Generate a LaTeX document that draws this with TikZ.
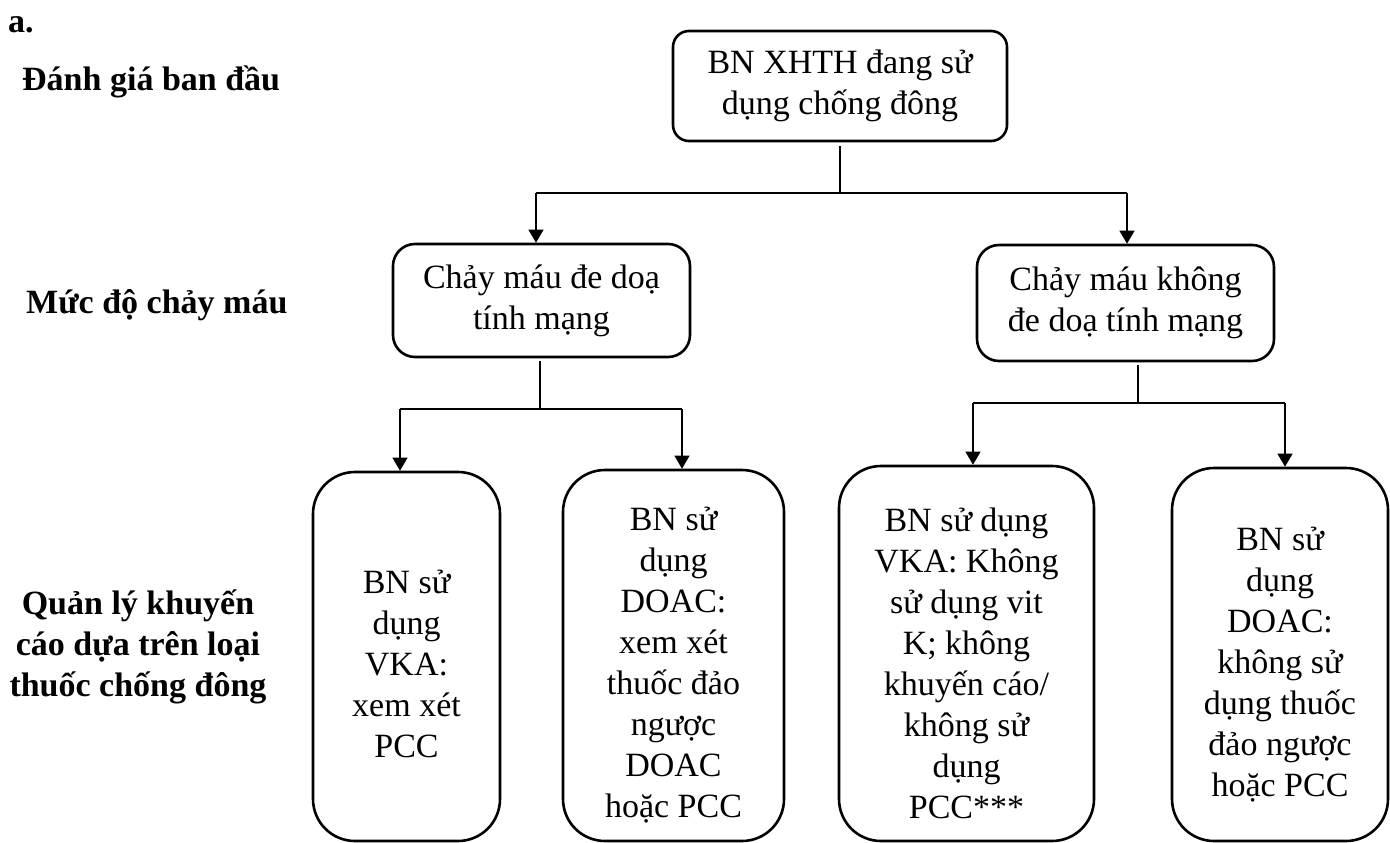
\documentclass[tikz,border=0pt]{standalone}
\usepackage{fontspec}
\setmainfont{Liberation Serif}
\usetikzlibrary{arrows.meta}
\begin{document}
\begin{tikzpicture}[x=1pt,y=-1pt,
  every node/.style={font=\fontsize{34}{41}\selectfont, inner sep=0pt, align=center},
  flow/.style={draw, line width=2.6pt, rounded corners=#1},
  flow/.default=20pt,
  txt/.style={align=center},
  conn/.style={line width=1.1pt},
  arr/.style={line width=1.1pt, -{Triangle[width=15pt,length=13pt]}},
  lbl/.style={font=\bfseries\fontsize{34}{41}\selectfont, inner sep=0pt}
]
\useasboundingbox (0,0) rectangle (1390,843);

% labels
\node[lbl, anchor=base west] (la) at (8,33) {a.};
\node[lbl, anchor=base west] (l1) at (22,91) {Đánh giá ban đầu};
\node[lbl, anchor=base west] (l2) at (26,313) {Mức độ chảy máu};
\node[lbl, align=center] (l3) at (138,647) {Quản lý khuyến\\cáo dựa trên loại\\thuốc chống đông};

% boxes
\node[flow=16pt, minimum width=334pt, minimum height=110pt] (top) at (840,86) {BN XHTH đang sử\\dụng chống đông};
\node[flow=22pt, minimum width=297pt, minimum height=113pt] (bl) at (541.5,300.5) {Chảy máu đe doạ\\tính mạng};
\node[flow=22pt, minimum width=297pt, minimum height=116pt] (nb) at (1125.5,303) {Chảy máu không\\đe doạ tính mạng};

\node[flow=42pt, minimum width=187pt, minimum height=369pt] (A) at (406.5,656.5) {};
\node[flow=42pt, minimum width=221pt, minimum height=371pt] (B) at (673.5,655.5) {};
\node[flow=42pt, minimum width=255pt, minimum height=375pt] (C) at (966.5,653.5) {};
\node[flow=42pt, minimum width=216pt, minimum height=373pt] (D) at (1280,654.5) {};

\node[txt] (At) at ([yshift=-7pt]A.center) {BN sử\\dụng\\VKA:\\xem xét\\PCC};
\node[txt] (Bt) at ([yshift=-10pt]B.center) {BN sử\\dụng\\DOAC:\\xem xét\\thuốc đảo\\ngược\\DOAC\\hoặc PCC};
\node[txt] (Ct) at ([yshift=-10pt]C.center) {BN sử dụng\\VKA: Không\\sử dụng vit\\K; không\\khuyến cáo/\\không sử\\dụng\\PCC***};
\node[txt] (Dt) at ([yshift=-10pt]D.center) {BN sử\\dụng\\DOAC:\\không sử\\dụng thuốc\\đảo ngược\\hoặc PCC};

% connectors level 1
\coordinate (j0) at (840,193);
\coordinate (jL) at (536,193);
\coordinate (jR) at (1127,193);
\draw[conn] ([yshift=-4pt]top.south) -- (j0);
\draw[conn] (jL) -- (jR);
\draw[arr] (jL) -- (jL |- bl.north);
\draw[arr] (jR) -- (jR |- nb.north);

% connectors level 2 left
\coordinate (k0) at (540,409);
\coordinate (kL) at (400,409);
\coordinate (kR) at (682,409);
\draw[conn] ([yshift=-3pt]bl.south -| k0) -- (k0);
\draw[conn] (kL) -- (kR);
\draw[arr] (kL) -- (kL |- A.north);
\draw[arr] (kR) -- (kR |- B.north);

% connectors level 2 right
\coordinate (m0) at (1138,403);
\coordinate (mL) at (973,403);
\coordinate (mR) at (1285,403);
\draw[conn] ([yshift=-3pt]nb.south -| m0) -- (m0);
\draw[conn] (mL) -- (mR);
\draw[arr] (mL) -- (mL |- C.north);
\draw[arr] (mR) -- (mR |- D.north);
\end{tikzpicture}
\end{document}
